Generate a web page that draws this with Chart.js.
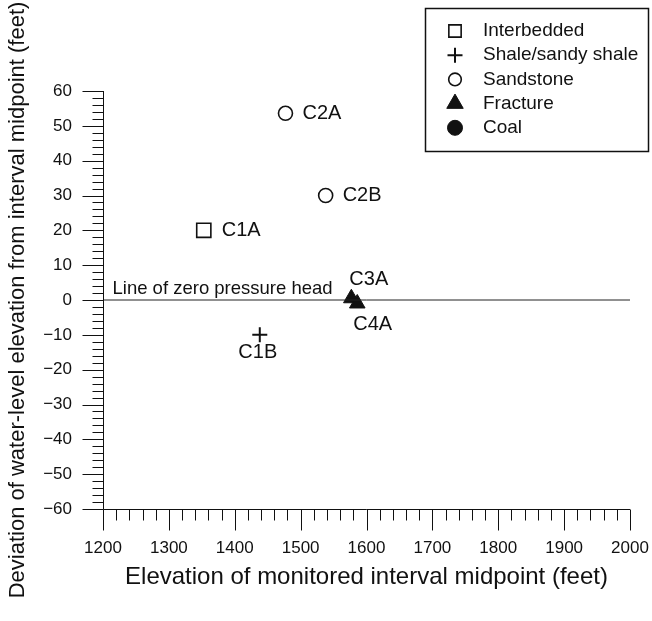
<!DOCTYPE html>
<html>
<head>
<meta charset="utf-8">
<script src="https://cdn.jsdelivr.net/npm/chart.js@4.4.1/dist/chart.umd.min.js"></script>
<style>
  html, body { margin: 0; padding: 0; background: #fff; }
  #container { width: 652px; height: 621px; }
</style>
</head>
<body>
<div id="container"><canvas id="cnv" width="652" height="621"></canvas></div>
<script>
// ---- data ----
const seriesNames  = ['Interbedded', 'Shale/sandy shale', 'Sandstone', 'Fracture', 'Coal'];
const interbedded  = [{ x: 1353, y: 20 }];
const shale        = [{ x: 1438, y: -10 }];
const sandstone    = [{ x: 1477, y: 53.6 }, { x: 1538, y: 30 }];
const fracture     = [{ x: 1577, y: 0.5 }, { x: 1586, y: -1 }];
const coal         = [];
const wellLabels   = [['C1A'], ['C1B'], ['C2A', 'C2B'], ['C3A', 'C4A'], []];
const zeroLine     = [{ x: 1200, y: 0 }, { x: 2000, y: 0 }];
const xTickLabels  = [1200, 1300, 1400, 1500, 1600, 1700, 1800, 1900, 2000];
const yTickLabels  = [-60, -50, -40, -30, -20, -10, 0, 10, 20, 30, 40, 50, 60];

const FONT = "'Liberation Sans', Arial, Helvetica, sans-serif";
const INK  = '#111';

// label offsets (px) from the marker, per series / point
const labelPos = [
  [{ dx: 18, dy: 0, align: 'left' }],
  [{ dx: -2, dy: 18, align: 'center' }],
  [{ dx: 17, dy: 0, align: 'left' }, { dx: 17, dy: 0, align: 'left' }],
  [{ dx: -2, dy: -19, align: 'left' }, { dx: -4, dy: 21, align: 'left' }],
  []
];

// ---- datasets ----
const markerStyle = [
  { pointStyle: 'rect',     radius: 10,  fill: false, lw: 1.6, legendR: 8.7 },
  { pointStyle: 'cross',    radius: 7.5, fill: false, lw: 2,   legendR: 7.5 },
  { pointStyle: 'circle',   radius: 7,   fill: false, lw: 1.6, legendR: 6.3 },
  { pointStyle: 'triangle', radius: 9,   fill: true,  lw: 1,   legendR: 9.5 },
  { pointStyle: 'circle',   radius: 7.5, fill: true,  lw: 1,   legendR: 7.5 }
];
const seriesData = [interbedded, shale, sandstone, fracture, coal];

const datasets = seriesData.map((d, i) => ({
  type: 'scatter',
  label: seriesNames[i],
  data: d,
  pointStyle: markerStyle[i].pointStyle,
  pointRadius: markerStyle[i].radius,
  pointHoverRadius: markerStyle[i].radius,
  pointBorderWidth: markerStyle[i].lw,
  borderColor: INK,
  backgroundColor: markerStyle[i].fill ? INK : 'rgba(0,0,0,0)',
  pointBorderColor: INK,
  pointBackgroundColor: markerStyle[i].fill ? INK : 'rgba(0,0,0,0)'
}));
datasets.unshift({
  type: 'line',
  label: 'zero',
  data: zeroLine,
  borderColor: '#222',
  borderWidth: 1,
  pointRadius: 0,
  fill: false
});

// ---- axes, minor ticks, labels, legend ----
const extras = {
  id: 'extras',
  afterDraw(chart) {
    const { ctx, scales: { x, y } } = chart;
    const left = Math.round(x.getPixelForValue(x.min)) + 0.5;
    const right = x.getPixelForValue(x.max);
    const top = y.getPixelForValue(y.max);
    const bottom = Math.round(y.getPixelForValue(y.min)) + 0.5;
    ctx.save();
    ctx.strokeStyle = INK;
    ctx.lineWidth = 1;
    ctx.beginPath();
    ctx.moveTo(left, top); ctx.lineTo(left, bottom); ctx.lineTo(right, bottom);
    for (let v = y.min; v <= y.max; v += 2) {
      const py = Math.round(y.getPixelForValue(v)) + 0.5;
      const len = v % 10 === 0 ? 21 : 11;
      ctx.moveTo(left - len, py); ctx.lineTo(left, py);
    }
    for (let v = x.min; v <= x.max; v += 20) {
      const px = Math.round(x.getPixelForValue(v)) + 0.5;
      const len = v % 100 === 0 ? 21 : 11;
      ctx.moveTo(px, bottom); ctx.lineTo(px, bottom + len);
    }
    ctx.stroke();

    // zero line caption
    ctx.fillStyle = INK;
    ctx.font = '18.5px ' + FONT;
    ctx.textAlign = 'left';
    ctx.textBaseline = 'middle';
    ctx.fillText('Line of zero pressure head', left + 9, y.getPixelForValue(0) - 11);

    // well labels
    ctx.font = '20px ' + FONT;
    seriesData.forEach((d, i) => {
      d.forEach((p, j) => {
        const o = labelPos[i][j];
        ctx.textAlign = o.align;
        ctx.fillText(wellLabels[i][j], x.getPixelForValue(p.x) + o.dx, y.getPixelForValue(p.y) + o.dy);
      });
    });

    // legend box
    ctx.lineWidth = 1.5;
    ctx.strokeRect(425.5, 8.5, 223, 143);
    ctx.textAlign = 'left';
    ctx.font = '19px ' + FONT;
    seriesNames.forEach((name, i) => {
      const rowY = 31 + i * 24.2;
      const m = markerStyle[i];
      ctx.strokeStyle = INK;
      ctx.fillStyle = m.fill ? INK : 'rgba(0,0,0,0)';
      ctx.lineWidth = m.lw;
      Chart.helpers.drawPoint(ctx, { pointStyle: m.pointStyle, radius: m.legendR, rotation: 0, borderWidth: m.lw }, 455, rowY);
      ctx.fillStyle = INK;
      ctx.fillText(name, 483, rowY);
    });
    ctx.restore();
  }
};

new Chart('cnv', {
  data: { datasets },
  options: {
    responsive: false,
    animation: false,
    layout: { padding: { left: 0, right: 22, top: 91, bottom: 0 } },
    plugins: { legend: { display: false }, tooltip: { enabled: false } },
    scales: {
      x: {
        type: 'linear', min: 1200, max: 2000,
        afterFit: s => { s.height = 112; s.paddingLeft = 0; s.paddingRight = 0; },
        afterBuildTicks: s => { s.ticks = xTickLabels.map(v => ({ value: v })); },
        grid: { display: false }, border: { display: false },
        ticks: { color: INK, font: { family: FONT, size: 17 }, padding: 21, maxRotation: 0, autoSkip: false,
                 callback: v => String(v) },
        title: { display: true, text: 'Elevation of monitored interval midpoint (feet)', color: INK,
                 font: { family: FONT, size: 24 }, padding: { top: 0, bottom: 29 } }
      },
      y: {
        type: 'linear', min: -60, max: 60,
        afterFit: s => { s.width = 103; s.paddingTop = 0; s.paddingBottom = 0; },
        afterBuildTicks: s => { s.ticks = yTickLabels.map(v => ({ value: v })); },
        grid: { display: false }, border: { display: false },
        ticks: { color: INK, font: { family: FONT, size: 17 }, padding: 23, autoSkip: false,
                 callback: v => v < 0 ? '\u2212' + Math.abs(v) : String(v) },
        title: { display: true, text: 'Deviation of water-level elevation from interval midpoint (feet)', color: INK,
                 font: { family: FONT, size: 22 }, padding: { top: 5, bottom: 0 } }
      }
    }
  },
  plugins: [extras]
});
</script>
</body>
</html>
